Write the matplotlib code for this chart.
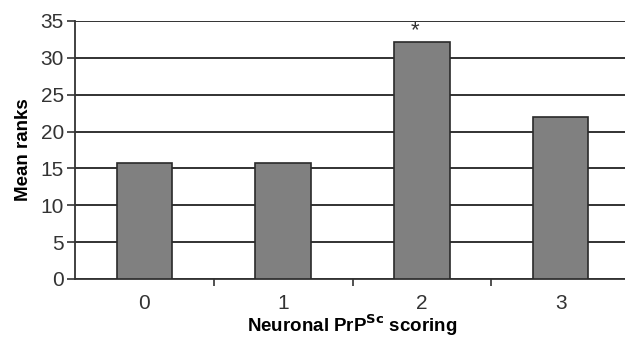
import numpy as np
import matplotlib
matplotlib.use("Agg")
import matplotlib.pyplot as plt

plt.rcParams["font.family"] = ["Liberation Sans", "DejaVu Sans"]

# dados
categorias = ["0", "1", "2", "3"]
mean_ranks = [15.7, 15.7, 32.1, 22.0]
marcas = ["", "", "*", ""]
y_ticks = [0, 5, 10, 15, 20, 25, 30, 35]

fig = plt.figure(figsize=(6.25, 3.38), dpi=100)
ax = fig.add_axes([0.12, 0.1746, 0.888, 0.7633])

x = np.arange(len(categorias))
ax.bar(x, mean_ranks, width=0.40, color="#808080", edgecolor="#2a2a2a",
       linewidth=1.2, zorder=3)

for xi, v, m in zip(x, mean_ranks, marcas):
    if m:
        ax.text(xi - 0.05, v + 0.2, m, ha="center", va="bottom",
                fontsize=16, color="#333333")

ax.set_xlim(-0.5, len(categorias) - 0.5)
ax.set_ylim(0, 35)
ax.set_yticks(y_ticks)
ax.yaxis.grid(True, color="#222222", linewidth=1.3, zorder=0)
ax.set_axisbelow(True)

# ticks entre categorias, rótulos no centro
ax.set_xticks(x[:-1] + 0.5)
ax.set_xticklabels([])
ax.set_xticks(x, minor=True)
ax.set_xticklabels(categorias, minor=True)
ax.tick_params(axis="x", which="major", length=5, width=1.2, color="#333333")
ax.tick_params(axis="x", which="minor", length=0, pad=11, labelsize=15,
               labelcolor="#333333")
ax.tick_params(axis="y", length=6, width=1.2, color="#333333", labelsize=15,
               labelcolor="#333333", pad=2)

for s in ["top", "right"]:
    ax.spines[s].set_visible(False)
for s in ["left", "bottom"]:
    ax.spines[s].set_linewidth(1.3)
    ax.spines[s].set_color("#333333")

ax.set_ylabel("Mean ranks", fontsize=13.5, fontweight="bold", labelpad=6)
# rótulo do eixo x posicionado à mão para caber na figura
fig.text(352 / 625, 6 / 338, r"Neuronal PrP$^{\mathbf{Sc}}$ scoring",
         ha="center", va="baseline", fontsize=13.5, fontweight="bold")

plt.savefig("out.png", dpi=100)
